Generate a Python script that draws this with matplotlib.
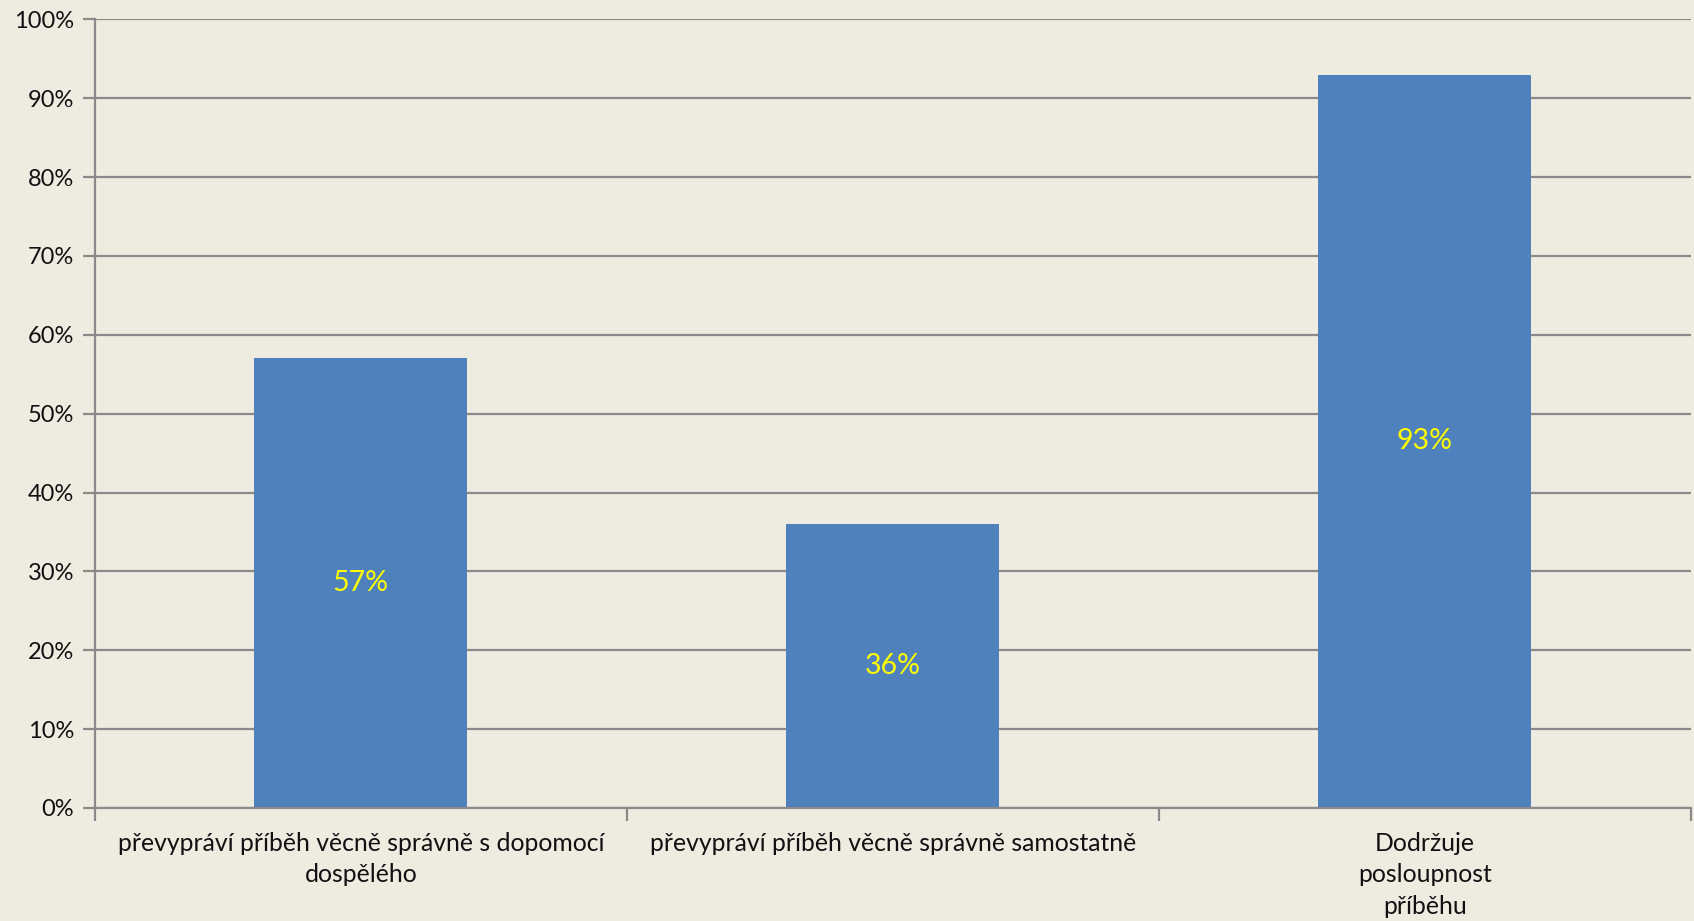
import matplotlib
matplotlib.use("Agg")
import matplotlib.pyplot as plt
from matplotlib.ticker import FixedLocator, PercentFormatter

# chart data
categories = [
    "převypráví příběh věcně správně s dopomocí\ndospělého",
    "převypráví příběh věcně správně samostatně",
    "Dodržuje\nposloupnost\npříběhu",
]
values = [57, 36, 93]
y_ticks = list(range(0, 101, 10))

bg = "#EEEBE0"
bar_color = "#4F81BD"
line_color = "#8A8A8A"

plt.rcParams["font.family"] = ["Lato", "DejaVu Sans"]

fig = plt.figure(figsize=(16.94, 9.21), dpi=100, facecolor=bg)
ax = fig.add_axes([0.056, 0.1227, 0.942, 0.8563])
ax.set_facecolor(bg)

x = list(range(len(categories)))
bars = ax.bar(x, values, width=0.4, color=bar_color, zorder=3)

for b, v in zip(bars, values):
    ax.text(b.get_x() + b.get_width() / 2, v / 2, f"{v}%",
            ha="center", va="center", color="#FFFF00", fontsize=20.5, zorder=4)

ax.set_xlim(-0.5, len(categories) - 0.5)
ax.set_ylim(0, 100)
ax.set_yticks(y_ticks)
ax.yaxis.set_major_formatter(PercentFormatter(decimals=0))
ax.yaxis.grid(True, color=line_color, linewidth=1.6, zorder=1)

ax.set_xticks(x)
ax.set_xticklabels(categories, fontsize=17.8, color="#111111", linespacing=1.45)
ax.tick_params(axis="x", which="major", length=0, pad=17)
ax.xaxis.set_minor_locator(FixedLocator([-0.5 + i for i in range(len(categories) + 1)]))
ax.tick_params(axis="x", which="minor", length=9, width=1.6, color=line_color)
ax.tick_params(axis="y", length=9, width=1.6, color=line_color, labelsize=17,
               labelcolor="#111111", pad=6)

for s in ["top", "right"]:
    ax.spines[s].set_visible(False)
for s in ["left", "bottom"]:
    ax.spines[s].set_color(line_color)
    ax.spines[s].set_linewidth(1.6)
    ax.spines[s].set_zorder(5)

fig.savefig("out.png", dpi=100, facecolor=bg)
